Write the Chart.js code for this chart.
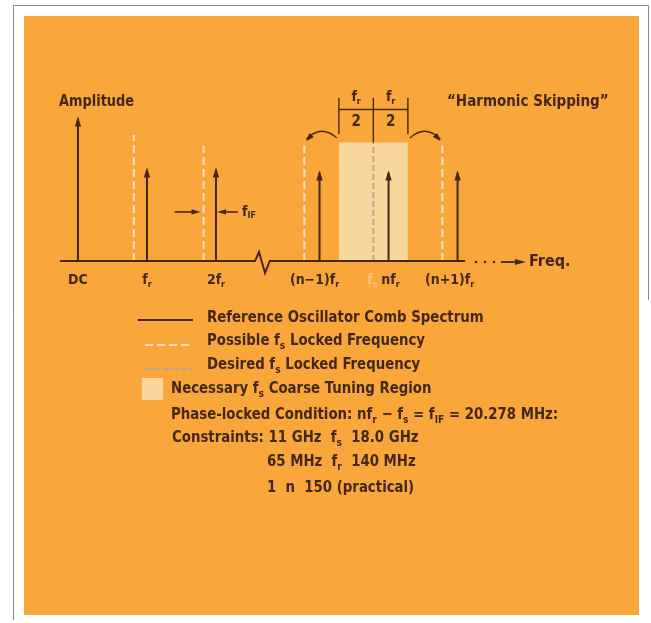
<!DOCTYPE html>
<html><head><meta charset="utf-8">
<script src="https://cdn.jsdelivr.net/npm/chart.js@4/dist/chart.umd.min.js"></script>
<style>html,body{margin:0;padding:0;background:#fff;}#wrap{width:651px;height:623px;}</style>
</head><body><div id="wrap"><canvas id="c" width="651" height="623"></canvas></div>
<script>
// ---- data ----
const harmonicLabels = ['DC', 'f_r', '2f_r', '(n−1)f_r', 'nf_r', '(n+1)f_r'];
const harmonicPos = [0, 1, 2, 3.5, 4.5, 5.5];
const combAmplitude = [95, 61, 61, 59, 59, 59];
const possibleFsPos = [0.81, 1.82, 3.28, 5.28];
const possibleFsAmp = [84, 77, 77, 77];
const desiredFsPos = [4.28];
const desiredFsAmp = [79];
const tuningRegion = [3.78, 4.78];
const tuningRegionTop = 79;
const axisLineX = [-0.26, 2.565, 2.623, 2.71, 2.78, 5.61];
const axisLineY = [0, 0, 6, -8, 0, 0];
const ifMarkerAmp = 32.7;
const legendLabels = ['Reference Oscillator Comb Spectrum', 'Possible f_s Locked Frequency', 'Desired f_s Locked Frequency', 'Necessary f_s Coarse Tuning Region'];
const conditionLines = ['Phase-locked Condition: nf_r − f_s = f_{IF} = 20.278 MHz:', 'Constraints: 11 GHz  f_s  18.0 GHz', '65 MHz  f_r  140 MHz', '1  n  150 (practical)'];
const titleText = '“Harmonic Skipping”';
const yAxisTitle = 'Amplitude';
const xAxisTitle = 'Freq.';

// ---- styles ----
const BROWN = '#43281a';
const ORANGE = '#f9a73b';
const PALE = '#f8d69c';
const POSSIBLE = '#f4dcc6';
const DESIRED = '#b9a79a';
const FONT = '"Liberation Sans Narrow","DejaVu Sans Condensed",sans-serif';

function spikes(pos, amp) {
  const d = [];
  pos.forEach((x, i) => { d.push({x, y: 0}, {x, y: amp[i]}, {x, y: null}); });
  return d;
}

function parseRich(str) {
  const parts = [];
  let i = 0, buf = '';
  while (i < str.length) {
    if (str[i] === '_') {
      if (buf) { parts.push({t: buf, sub: false}); buf = ''; }
      if (str[i + 1] === '{') {
        const j = str.indexOf('}', i);
        parts.push({t: str.slice(i + 2, j), sub: true}); i = j + 1;
      } else { parts.push({t: str[i + 1], sub: true}); i += 2; }
    } else { buf += str[i]; i++; }
  }
  if (buf) parts.push({t: buf, sub: false});
  return parts;
}

function drawRich(ctx, str, x, y, size, align, color, sx) {
  sx = sx || 1;
  const parts = parseRich(str);
  const subSize = Math.round(size * 0.66);
  let w = 0;
  parts.forEach(p => { ctx.font = 'bold ' + (p.sub ? subSize : size) + 'px ' + FONT; p.w = ctx.measureText(p.t).width; w += p.w; });
  const wScaled = w * sx;
  const x0 = align === 'center' ? x - wScaled / 2 : (align === 'right' ? x - wScaled : x);
  ctx.save();
  ctx.translate(x0, 0); ctx.scale(sx, 1);
  ctx.fillStyle = color || BROWN;
  ctx.textBaseline = 'middle';
  ctx.textAlign = 'left';
  let cx = 0;
  parts.forEach(p => {
    ctx.font = 'bold ' + (p.sub ? subSize : size) + 'px ' + FONT;
    ctx.fillText(p.t, cx, p.sub ? y + size * 0.3 : y);
    cx += p.w;
  });
  ctx.restore();
}

function arrowHead(ctx, x, y, angle, len, half) {
  ctx.save();
  ctx.translate(x, y); ctx.rotate(angle);
  ctx.beginPath(); ctx.moveTo(0, 0); ctx.lineTo(-len, -half); ctx.lineTo(-len, half); ctx.closePath();
  ctx.fillStyle = BROWN; ctx.fill();
  ctx.restore();
}

const framePlugin = {
  id: 'frame',
  beforeDraw(chart) {
    const ctx = chart.ctx;
    ctx.save();
    ctx.fillStyle = '#ffffff'; ctx.fillRect(0, 0, 651, 623);
    ctx.strokeStyle = '#8a8a8a'; ctx.lineWidth = 1;
    ctx.beginPath();
    ctx.moveTo(13.5, 620); ctx.lineTo(13.5, 5.5); ctx.lineTo(648.5, 5.5); ctx.lineTo(648.5, 300);
    ctx.stroke();
    ctx.fillStyle = ORANGE; ctx.fillRect(24, 16, 615, 599);
    ctx.restore();
  }
};

const annotPlugin = {
  id: 'annot',
  afterDatasetsDraw(chart) {
    const ctx = chart.ctx, xs = chart.scales.x, ys = chart.scales.y;
    ctx.save();
    harmonicPos.forEach((p, i) => {
      arrowHead(ctx, xs.getPixelForValue(p), ys.getPixelForValue(combAmplitude[i]) - 2, -Math.PI / 2, 10, 3.2);
    });
    const yIF = ys.getPixelForValue(ifMarkerAmp);
    const xDash = xs.getPixelForValue(possibleFsPos[1]);
    const xComb = xs.getPixelForValue(harmonicPos[2]);
    ctx.strokeStyle = BROWN; ctx.lineWidth = 1.6;
    ctx.beginPath(); ctx.moveTo(xDash - 29, yIF); ctx.lineTo(xDash - 8, yIF); ctx.stroke();
    arrowHead(ctx, xDash - 3, yIF, 0, 9, 2.6);
    ctx.beginPath(); ctx.moveTo(xComb + 22, yIF); ctx.lineTo(xComb + 6, yIF); ctx.stroke();
    arrowHead(ctx, xComb + 1, yIF, Math.PI, 9, 2.6);
    drawRich(ctx, 'f_{IF}', xComb + 26, yIF, 14, 'left');
    const bx = [tuningRegion[0], desiredFsPos[0], tuningRegion[1]].map(v => xs.getPixelForValue(v));
    ctx.lineWidth = 1.4;
    ctx.beginPath();
    ctx.moveTo(bx[0], 98); ctx.lineTo(bx[0], 134);
    ctx.moveTo(bx[1], 98); ctx.lineTo(bx[1], ys.getPixelForValue(tuningRegionTop));
    ctx.moveTo(bx[2], 98); ctx.lineTo(bx[2], 134);
    ctx.moveTo(bx[0], 109.5); ctx.lineTo(bx[2], 109.5);
    ctx.stroke();
    drawRich(ctx, 'f_r', (bx[0] + bx[1]) / 2, 97, 14, 'center');
    drawRich(ctx, 'f_r', (bx[1] + bx[2]) / 2, 97, 14, 'center');
    drawRich(ctx, '2', (bx[0] + bx[1]) / 2, 122, 15, 'center');
    drawRich(ctx, '2', (bx[1] + bx[2]) / 2, 122, 15, 'center');
    const lx = xs.getPixelForValue(possibleFsPos[2]);
    const rx = xs.getPixelForValue(possibleFsPos[3]);
    const yS = ys.getPixelForValue(82), yE = ys.getPixelForValue(80);
    [[bx[0] - 2, lx + 2], [bx[2] + 2, rx - 2]].forEach(([sx, ex]) => {
      const cxp = (sx + ex) / 2, cyp = 124;
      ctx.beginPath(); ctx.moveTo(sx, yS); ctx.quadraticCurveTo(cxp, cyp, ex, yE - 2); ctx.stroke();
      arrowHead(ctx, ex, yE, Math.atan2(yE - cyp, ex - cxp), 8, 3);
    });
    ctx.restore();
  },
  afterDraw(chart) {
    const ctx = chart.ctx, xs = chart.scales.x, ys = chart.scales.y;
    ctx.save();
    const y0 = ys.getPixelForValue(0);
    harmonicLabels.forEach((lab, i) => {
      let px = xs.getPixelForValue(harmonicPos[i]);
      if (i === 3) px -= 5;
      if (i === 4) px += 2;
      if (i === 5) px -= 8;
      drawRich(ctx, lab, px, y0 + 19, 14, 'center');
    });
    drawRich(ctx, 'f_s', xs.getPixelForValue(desiredFsPos[0]) - 1, y0 + 19, 14, 'center', '#f7c57e');
    drawRich(ctx, yAxisTitle, 59, 102, 15, 'left', BROWN, 0.96);
    drawRich(ctx, titleText, 447, 102, 15, 'left', BROWN, 1.0);
    ctx.fillStyle = BROWN;
    [476, 485, 494].forEach(x => { ctx.beginPath(); ctx.arc(x, y0 + 1, 1.3, 0, Math.PI * 2); ctx.fill(); });
    ctx.strokeStyle = BROWN; ctx.lineWidth = 1.8;
    ctx.beginPath(); ctx.moveTo(501, y0 + 1); ctx.lineTo(516, y0 + 1); ctx.stroke();
    arrowHead(ctx, 526, y0 + 1, 0, 11, 3);
    drawRich(ctx, xAxisTitle, 529, y0 + 1, 16, 'left');
    ctx.lineWidth = 2;
    ctx.strokeStyle = BROWN; ctx.setLineDash([]);
    ctx.beginPath(); ctx.moveTo(138, 320); ctx.lineTo(193, 320); ctx.stroke();
    ctx.strokeStyle = POSSIBLE; ctx.setLineDash([8, 4]);
    ctx.beginPath(); ctx.moveTo(145, 345); ctx.lineTo(193, 345); ctx.stroke();
    ctx.strokeStyle = DESIRED; ctx.setLineDash([6, 3]);
    ctx.beginPath(); ctx.moveTo(145, 369); ctx.lineTo(193, 369); ctx.stroke();
    ctx.setLineDash([]);
    ctx.fillStyle = PALE; ctx.fillRect(142, 378, 21, 22);
    const S = 0.925;
    drawRich(ctx, legendLabels[0], 207, 318, 16, 'left', BROWN, S);
    drawRich(ctx, legendLabels[1], 207, 341, 16, 'left', BROWN, S);
    drawRich(ctx, legendLabels[2], 207, 365, 16, 'left', BROWN, S);
    drawRich(ctx, legendLabels[3], 171, 389, 16, 'left', BROWN, S);
    drawRich(ctx, conditionLines[0], 171, 415, 16, 'left', BROWN, S);
    drawRich(ctx, conditionLines[1], 172, 438, 16, 'left', BROWN, S);
    drawRich(ctx, conditionLines[2], 267, 462, 16, 'left', BROWN, S);
    drawRich(ctx, conditionLines[3], 267, 488, 16, 'left', BROWN, S);
    ctx.restore();
  }
};

new Chart(document.getElementById('c'), {
  type: 'scatter',
  data: {
    datasets: [
      { label: 'Reference Oscillator Comb Spectrum', data: spikes(harmonicPos, combAmplitude), showLine: true, spanGaps: false,
        borderColor: BROWN, borderWidth: 2, pointRadius: 0, order: 1, clip: false },
      { label: 'axis', data: axisLineX.map((x, i) => ({x, y: axisLineY[i]})), showLine: true,
        borderColor: BROWN, borderWidth: 2, pointRadius: 0, order: 2, clip: false },
      { label: 'Possible fs Locked Frequency', data: spikes(possibleFsPos, possibleFsAmp), showLine: true, spanGaps: false,
        borderColor: POSSIBLE, borderWidth: 2, borderDash: [8, 4], pointRadius: 0, order: 3, clip: false },
      { label: 'Desired fs Locked Frequency', data: spikes(desiredFsPos, desiredFsAmp), showLine: true, spanGaps: false,
        borderColor: DESIRED, borderWidth: 2, borderDash: [6, 3], pointRadius: 0, order: 3, clip: false },
      { label: 'Necessary fs Coarse Tuning Region', data: tuningRegion.map(x => ({x, y: tuningRegionTop})), showLine: true,
        fill: 'origin', backgroundColor: PALE, borderWidth: 0, borderColor: 'rgba(0,0,0,0)', pointRadius: 0, order: 10 }
    ]
  },
  options: {
    responsive: false, animation: false,
    layout: { padding: { left: 60, right: 181, top: 111, bottom: 332 } },
    scales: {
      x: { type: 'linear', min: -0.26, max: 5.68, display: false },
      y: { type: 'linear', min: -20, max: 100, display: false }
    },
    plugins: { legend: { display: false }, tooltip: { enabled: false } }
  },
  plugins: [framePlugin, annotPlugin]
});
</script>
</body></html>
